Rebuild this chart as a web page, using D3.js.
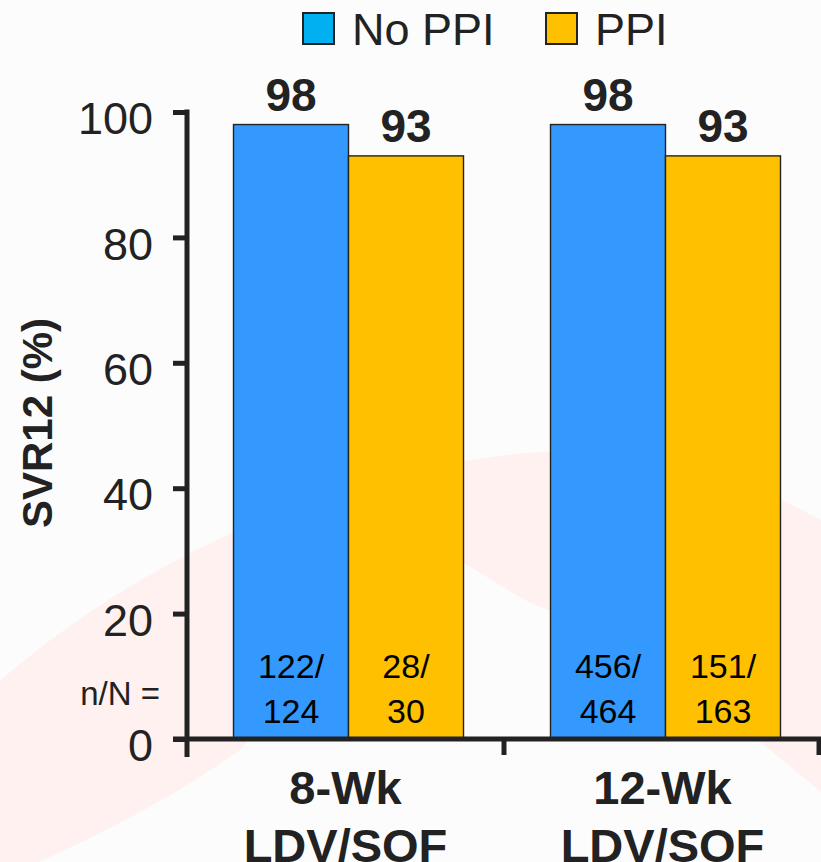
<!DOCTYPE html>
<html>
<head>
<meta charset="utf-8">
<script src="https://cdn.jsdelivr.net/npm/d3@7"></script>
<style>
  html, body { margin: 0; padding: 0; background: #fcfcfc; }
  svg { display: block; }
  text { font-family: "Liberation Sans", Arial, sans-serif; }
</style>
</head>
<body>
<svg id="chart" width="821" height="862"></svg>
<script>
// Regimens (two-line category labels)
const categories = ["8-Wk LDV/SOF", "12-Wk LDV/SOF"];
const categoryLines = [["8-Wk", "LDV/SOF"], ["12-Wk", "LDV/SOF"]];
const series = ["No PPI", "PPI"];

// SVR12 rate (%) by regimen
const noPpiSvr = [98, 98];
const ppiSvr = [93, 93];

// Responders / patients
const noPpiN = [122, 456];
const noPpiTotal = [124, 464];
const ppiN = [28, 151];
const ppiTotal = [30, 163];

const yTicks = [0, 20, 40, 60, 80, 100];

const barColors = { "No PPI": "#3399ff", "PPI": "#ffc000" };
const legendColors = { "No PPI": "#00b0f0", "PPI": "#ffc000" };
const ink = "#222222";

const svg = d3.select("#chart");
const W = 821, H = 862;

svg.append("rect").attr("width", W).attr("height", H).attr("fill", "#fcfcfc");

// faint decorative arc in the background
svg.append("path")
  .attr("d", "M -10,690 C 100,590 300,470 540,452 C 650,445 750,480 830,525 " +
             "L 830,800 C 760,740 640,640 540,607 C 500,590 470,560 440,555 " +
             "C 360,560 300,690 240,750 C 170,800 90,840 20,870 L -10,870 Z")
  .attr("fill", "#fff1ef");

const x0 = d3.scaleBand().domain(categories).range([187, 821]).paddingInner(0).paddingOuter(0);
const groupW = 230;
const x1 = d3.scaleBand().domain(series).range([0, groupW]).padding(0);
const y = d3.scaleLinear().domain([0, 100]).range([739, 112]);

const rows = categories.map((c, i) => ({
  cat: c,
  values: [
    { s: "No PPI", v: noPpiSvr[i], n: noPpiN[i], N: noPpiTotal[i] },
    { s: "PPI", v: ppiSvr[i], n: ppiN[i], N: ppiTotal[i] }
  ]
}));

const groups = svg.selectAll("g.grp").data(rows).enter().append("g")
  .attr("class", "grp")
  .attr("transform", d => `translate(${x0(d.cat) + (x0.bandwidth() - groupW) / 2 + 3},0)`);

groups.selectAll("rect").data(d => d.values).enter().append("rect")
  .attr("x", d => x1(d.s))
  .attr("width", x1.bandwidth())
  .attr("y", d => y(d.v))
  .attr("height", d => y(0) - y(d.v))
  .attr("fill", d => barColors[d.s])
  .attr("stroke", ink)
  .attr("stroke-width", 1.4);

// value labels
groups.selectAll("text.val").data(d => d.values).enter().append("text")
  .attr("class", "val")
  .attr("x", d => x1(d.s) + x1.bandwidth() / 2)
  .attr("y", d => y(d.v) - 14)
  .attr("text-anchor", "middle")
  .attr("font-size", 46).attr("font-weight", "bold").attr("fill", ink)
  .text(d => d.v);

// n/N labels inside bars
groups.selectAll("text.n").data(d => d.values).enter().append("text")
  .attr("class", "n")
  .attr("x", d => x1(d.s) + x1.bandwidth() / 2)
  .attr("y", y(0) - 61)
  .attr("text-anchor", "middle")
  .attr("font-size", 34).attr("fill", "#000")
  .text(d => d.n + "/");
groups.selectAll("text.N").data(d => d.values).enter().append("text")
  .attr("class", "N")
  .attr("x", d => x1(d.s) + x1.bandwidth() / 2)
  .attr("y", y(0) - 16.5)
  .attr("text-anchor", "middle")
  .attr("font-size", 34).attr("fill", "#000")
  .text(d => d.N);

svg.append("text")
  .attr("x", 160).attr("y", 705)
  .attr("text-anchor", "end")
  .attr("font-size", 33).attr("fill", ink)
  .text("n/N =");

// Y axis
const yAxis = svg.append("g").attr("transform", "translate(187,0)")
  .call(d3.axisLeft(y).tickValues(yTicks).tickSize(14).tickSizeOuter(0).tickPadding(20));
yAxis.select(".domain").remove();
yAxis.selectAll(".tick line").attr("stroke", ink).attr("stroke-width", 5);
yAxis.selectAll(".tick text")
  .attr("font-size", 45).attr("fill", ink)
  .attr("font-family", "Liberation Sans, Arial, sans-serif")
  .attr("dy", "0.48em");
svg.append("line")
  .attr("x1", 187).attr("x2", 187)
  .attr("y1", y(100) - 2.5).attr("y2", 757)
  .attr("stroke", ink).attr("stroke-width", 5);

// X axis baseline and boundary ticks
svg.append("line")
  .attr("x1", 173).attr("x2", W)
  .attr("y1", y(0)).attr("y2", y(0))
  .attr("stroke", ink).attr("stroke-width", 5);
const boundaries = categories.slice(1).map(c => x0(c)).concat([x0.range()[1] - 2]);
svg.selectAll("line.xt").data(boundaries).enter().append("line")
  .attr("class", "xt")
  .attr("x1", d => d).attr("x2", d => d)
  .attr("y1", y(0)).attr("y2", y(0) + 16)
  .attr("stroke", ink).attr("stroke-width", 5);

// category labels
const catLabels = svg.selectAll("text.cat").data(categories).enter().append("text")
  .attr("class", "cat")
  .attr("text-anchor", "middle")
  .attr("font-size", 47).attr("font-weight", "bold").attr("fill", ink);
catLabels.each(function(c, i) {
  const t = d3.select(this);
  categoryLines[i].forEach((line, j) => {
    t.append("tspan")
      .attr("x", x0(c) + x0.bandwidth() / 2)
      .attr("y", 804 + j * 58)
      .text(line);
  });
});

// Y axis title
svg.append("text")
  .attr("transform", "translate(52,423) rotate(-90)")
  .attr("text-anchor", "middle")
  .attr("font-size", 42).attr("font-weight", "bold").attr("fill", ink)
  .text("SVR12 (%)");

// Legend
const legendX = { "No PPI": 303, "PPI": 546 };
const leg = svg.selectAll("g.leg").data(series).enter().append("g")
  .attr("class", "leg")
  .attr("transform", s => `translate(${legendX[s]},13)`);
leg.append("rect")
  .attr("width", 31).attr("height", 31)
  .attr("fill", s => legendColors[s])
  .attr("stroke", ink).attr("stroke-width", 2);
leg.append("text")
  .attr("x", 49).attr("y", 32)
  .attr("font-size", 45).attr("fill", ink)
  .text(s => s);
</script>
</body>
</html>
